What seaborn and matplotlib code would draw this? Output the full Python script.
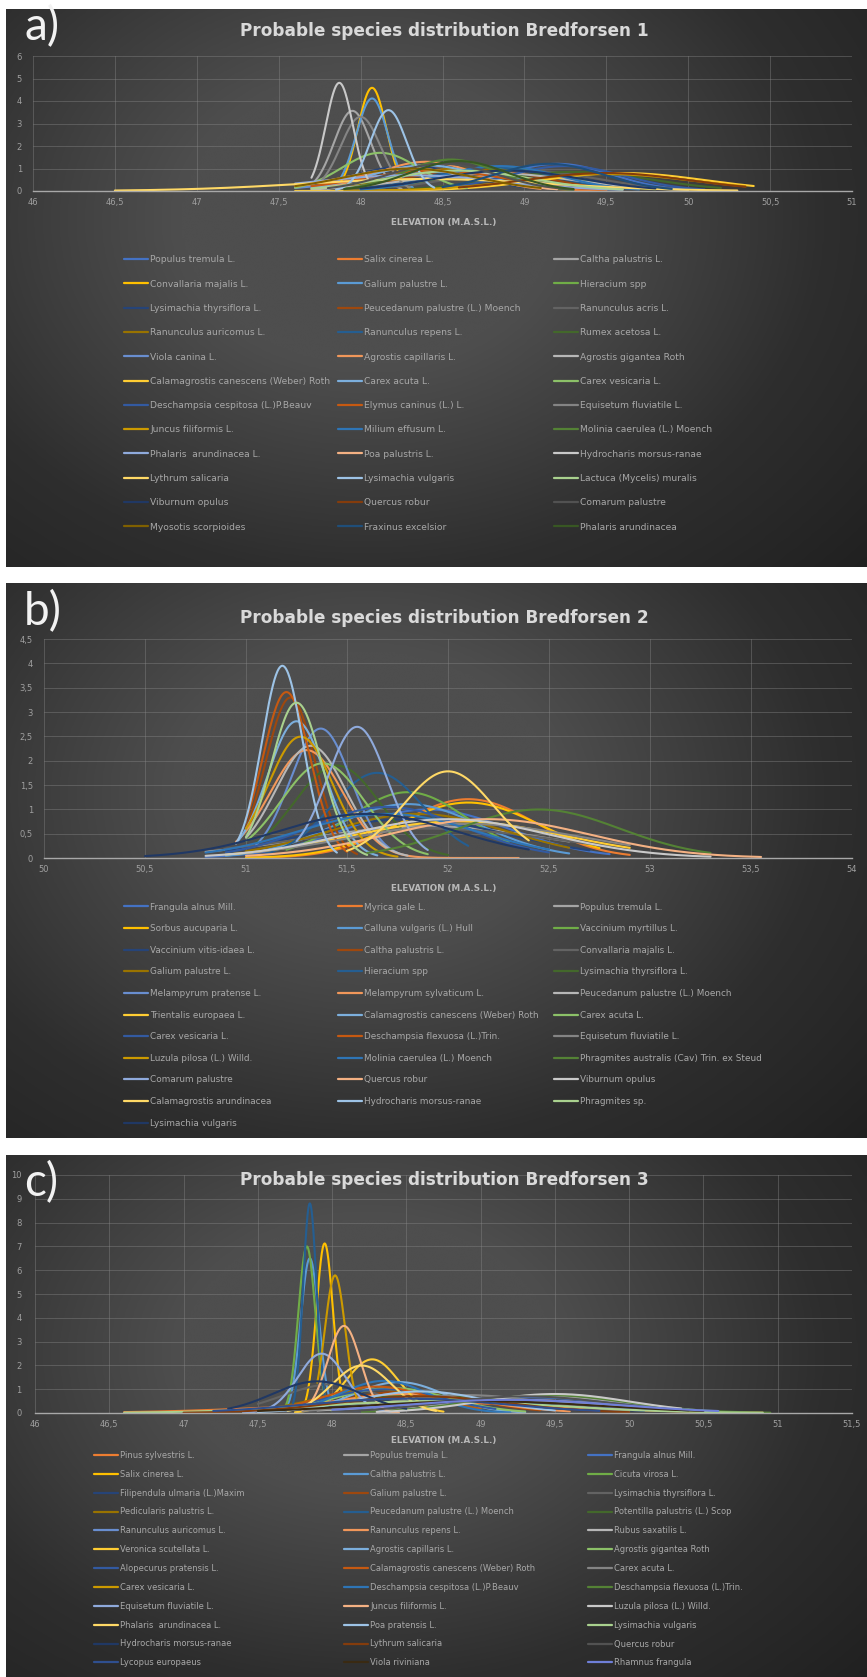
import numpy as np
import pandas as pd
import matplotlib
matplotlib.use("Agg")
import matplotlib.pyplot as plt
from matplotlib.colors import LinearSegmentedColormap
from matplotlib.lines import Line2D
from matplotlib.ticker import FuncFormatter, MultipleLocator
import seaborn as sns

# ---------------------------------------------------------------------------
# Bredforsen 1
species_a = [
    "Populus tremula L.", "Salix cinerea L.", "Caltha palustris L.",
    "Convallaria majalis L.", "Galium palustre L.", "Hieracium spp",
    "Lysimachia thyrsiflora L.", "Peucedanum palustre (L.) Moench", "Ranunculus acris L.",
    "Ranunculus auricomus L.", "Ranunculus repens L.", "Rumex acetosa L.",
    "Viola canina L.", "Agrostis capillaris L.", "Agrostis gigantea Roth",
    "Calamagrostis canescens (Weber) Roth", "Carex acuta L.", "Carex vesicaria L.",
    "Deschampsia cespitosa (L.)P.Beauv", "Elymus caninus (L.) L.", "Equisetum fluviatile L.",
    "Juncus filiformis L.", "Milium effusum L.", "Molinia caerulea (L.) Moench",
    "Phalaris  arundinacea L.", "Poa palustris L.", "Hydrocharis morsus-ranae",
    "Lythrum salicaria", "Lysimachia vulgaris", "Lactuca (Mycelis) muralis",
    "Viburnum opulus", "Quercus robur", "Comarum palustre",
    "Myosotis scorpioides", "Fraxinus excelsior", "Phalaris arundinacea",
]
mean_a = [49.20, 48.35, 47.95, 48.07, 48.07, 48.90, 48.30, 48.70, 49.00,
          48.60, 48.80, 49.30, 48.50, 48.40, 48.80, 49.60, 48.40, 48.12,
          49.25, 48.45, 48.00, 49.50, 48.85, 48.55, 48.30, 48.30, 47.87,
          48.40, 48.17, 48.60, 48.90, 49.50, 48.50, 48.30, 49.15, 48.60]
sd_a = [0.33, 0.38, 0.112, 0.087, 0.097, 0.40, 0.36, 0.40, 0.44,
        0.40, 0.38, 0.47, 0.47, 0.307, 0.50, 0.50, 0.35, 0.235,
        0.36, 0.44, 0.121, 0.53, 0.36, 0.285, 0.57, 0.40, 0.083,
        0.75, 0.111, 0.44, 0.44, 0.50, 0.33, 0.40, 0.33, 0.30]
low_a = [48.30, 47.60, 47.70, 47.85, 47.80, 48.00, 47.70, 47.90, 48.20,
         47.90, 48.00, 48.30, 47.60, 47.70, 47.70, 47.60, 47.70, 47.60,
         48.50, 47.70, 47.75, 47.90, 48.00, 47.90, 47.60, 47.60, 47.70,
         46.50, 47.85, 47.70, 48.00, 48.60, 47.80, 47.60, 48.50, 47.90]
high_a = [50.00, 49.50, 48.25, 48.30, 48.32, 49.80, 49.00, 49.60, 49.90,
          49.40, 49.60, 50.20, 49.50, 49.10, 50.00, 50.40, 49.20, 48.65,
          50.10, 49.50, 48.30, 50.35, 49.70, 49.30, 49.60, 49.20, 48.05,
          50.30, 48.45, 49.60, 49.80, 50.35, 49.30, 49.10, 49.90, 49.30]

# Bredforsen 2
species_b = [
    "Frangula alnus Mill.", "Myrica gale L.", "Populus tremula L.",
    "Sorbus aucuparia L.", "Calluna vulgaris (L.) Hull", "Vaccinium myrtillus L.",
    "Vaccinium vitis-idaea L.", "Caltha palustris L.", "Convallaria majalis L.",
    "Galium palustre L.", "Hieracium spp", "Lysimachia thyrsiflora L.",
    "Melampyrum pratense L.", "Melampyrum sylvaticum L.", "Peucedanum palustre (L.) Moench",
    "Trientalis europaea L.", "Calamagrostis canescens (Weber) Roth", "Carex acuta L.",
    "Carex vesicaria L.", "Deschampsia flexuosa (L.)Trin.", "Equisetum fluviatile L.",
    "Luzula pilosa (L.) Willd.", "Molinia caerulea (L.) Moench", "Phragmites australis (Cav) Trin. ex Steud",
    "Comarum palustre", "Quercus robur", "Viburnum opulus",
    "Calamagrostis arundinacea", "Hydrocharis morsus-ranae", "Phragmites sp.",
    "Lysimachia vulgaris",
]
mean_b = [51.90, 52.10, 51.90, 52.10, 51.80, 51.80, 51.80, 51.22, 51.90,
          51.85, 51.65, 51.45, 51.37, 51.30, 51.32, 52.05, 51.25, 51.38,
          51.70, 51.20, 52.10, 51.27, 51.70, 52.45, 51.55, 52.20, 52.00,
          52.00, 51.18, 51.25, 51.60]
sd_b = [0.40, 0.33, 0.61, 0.35, 0.36, 0.295, 0.50, 0.121, 0.66,
        0.44, 0.228, 0.21, 0.15, 0.18, 0.173, 0.53, 0.142, 0.205,
        0.38, 0.117, 0.57, 0.16, 0.44, 0.40, 0.148, 0.50, 0.50,
        0.224, 0.101, 0.125, 0.44]
low_b = [50.80, 51.00, 50.80, 51.00, 50.90, 51.20, 50.90, 51.00, 50.90,
         51.00, 51.10, 51.05, 51.05, 50.95, 51.00, 50.90, 50.95, 51.00,
         50.90, 51.00, 51.00, 51.00, 50.80, 51.60, 51.25, 51.00, 50.80,
         51.50, 50.95, 51.00, 50.50]
high_b = [52.80, 52.90, 52.60, 52.75, 52.60, 52.30, 52.70, 51.55, 52.80,
          52.60, 52.10, 52.00, 51.75, 52.35, 51.80, 52.90, 51.65, 51.90,
          52.50, 51.50, 52.90, 51.75, 52.50, 53.30, 51.90, 53.55, 53.30,
          52.40, 51.45, 51.60, 52.40]

# Bredforsen 3
species_c = [
    "Pinus sylvestris L.", "Populus tremula L.", "Frangula alnus Mill.",
    "Salix cinerea L.", "Caltha palustris L.", "Cicuta virosa L.",
    "Filipendula ulmaria (L.)Maxim", "Galium palustre L.", "Lysimachia thyrsiflora L.",
    "Pedicularis palustris L.", "Peucedanum palustre (L.) Moench", "Potentilla palustris (L.) Scop",
    "Ranunculus auricomus L.", "Ranunculus repens L.", "Rubus saxatilis L.",
    "Veronica scutellata L.", "Agrostis capillaris L.", "Agrostis gigantea Roth",
    "Alopecurus pratensis L.", "Calamagrostis canescens (Weber) Roth", "Carex acuta L.",
    "Carex vesicaria L.", "Deschampsia cespitosa (L.)P.Beauv", "Deschampsia flexuosa (L.)Trin.",
    "Equisetum fluviatile L.", "Juncus filiformis L.", "Luzula pilosa (L.) Willd.",
    "Phalaris  arundinacea L.", "Poa pratensis L.", "Lysimachia vulgaris",
    "Hydrocharis morsus-ranae", "Lythrum salicaria", "Quercus robur",
    "Lycopus europaeus", "Viola riviniana", "Rhamnus frangula",
]
mean_c = [48.60, 49.40, 49.30, 47.95, 47.85, 47.83, 48.80, 48.50, 48.00,
          48.30, 47.85, 48.60, 49.00, 48.50, 49.20, 48.27, 48.45, 48.40,
          48.35, 48.30, 48.90, 48.02, 48.35, 49.45, 47.93, 48.08, 49.50,
          48.20, 48.60, 48.70, 47.90, 48.60, 49.30, 48.50, 49.00, 49.20]
sd_c = [0.90, 0.57, 0.60, 0.056, 0.0614, 0.057, 0.66, 0.44, 0.33,
        0.40, 0.0453, 0.50, 0.66, 0.50, 0.72, 0.177, 0.307, 0.38,
        0.40, 0.36, 0.53, 0.069, 0.295, 0.53, 0.16, 0.109, 0.50,
        0.20, 0.44, 0.80, 0.30, 0.57, 0.57, 0.66, 0.80, 0.72]
low_c = [46.60, 48.20, 48.00, 47.80, 47.70, 47.68, 47.60, 47.60, 47.50,
         47.60, 47.73, 47.60, 47.80, 47.50, 47.90, 47.75, 47.80, 47.60,
         47.70, 47.60, 47.80, 47.90, 47.70, 48.20, 47.40, 47.80, 48.30,
         47.70, 47.50, 46.60, 47.30, 47.00, 48.00, 47.20, 47.50, 48.00]
high_c = [50.90, 50.40, 50.50, 48.10, 48.00, 48.00, 50.10, 49.40, 48.60,
          49.00, 47.98, 49.60, 50.30, 49.60, 50.50, 48.75, 49.30, 49.30,
          49.10, 49.00, 50.00, 48.17, 49.20, 50.95, 48.40, 48.45, 50.35,
          48.70, 49.50, 50.90, 48.50, 50.00, 50.40, 49.80, 50.50, 50.60]

# Office series colour cycle (row-wise through the three legend columns)
office_cycle = [
    "#4472C4", "#ED7D31", "#A5A5A5", "#FFC000", "#5B9BD5", "#70AD47",
    "#264478", "#9E480E", "#636363", "#997300", "#255E91", "#43682B",
    "#698ED0", "#F1975A", "#B7B7B7", "#FFCD33", "#7CAFDD", "#8CC168",
    "#335AA1", "#C65911", "#848484", "#CC9A00", "#2E75B6", "#548235",
    "#8FAADC", "#F4B183", "#C9C9C9", "#FFD966", "#9DC3E6", "#A9D18E",
    "#203864", "#843C0C", "#525252", "#7F6000", "#1F4E79", "#385723",
]
colors_a = office_cycle[:36]
colors_b = office_cycle[:31]
colors_c = (["#ED7D31", "#A5A5A5", "#4472C4"] + office_cycle[3:33]
            + ["#2F4F8F", "#3A2A12", "#6F7FD8"])

titles = ["Probable species distribution Bredforsen 1",
          "Probable species distribution Bredforsen 2",
          "Probable species distribution Bredforsen 3"]
letters = ["a)", "b)", "c)"]
x_label = "ELEVATION (M.A.S.L.)"

# ---------------------------------------------------------------------------
W, H, DPI = 867, 1677, 100
sns.set_theme(style="dark")
plt.rcParams["font.family"] = ["DejaVu Sans"]

fig = plt.figure(figsize=(W / DPI, H / DPI), dpi=DPI, facecolor="white")


def rect(x0, y0, x1, y1):
    return [x0 / W, 1 - y1 / H, (x1 - x0) / W, (y1 - y0) / H]


def fx(x):
    return x / W


def fy(y):
    return 1 - y / H


def density_frame(names, mus, sds, lows, highs):
    parts = []
    for name, mu, sd, lo, hi in zip(names, mus, sds, lows, highs):
        x = np.linspace(lo, hi, 200)
        y = np.exp(-0.5 * ((x - mu) / sd) ** 2) / (sd * np.sqrt(2 * np.pi))
        parts.append(pd.DataFrame({"elevation": x, "density": y, "species": name}))
    return pd.concat(parts, ignore_index=True)


bg_cmap = LinearSegmentedColormap.from_list("bg", ["#1f1f1f", "#2e2e2e", "#4e4e4e"])


def comma(v, _pos):
    return f"{v:g}".replace(".", ",")


layouts = [
    dict(frame=(6, 9, 867, 567), plot=(33, 56, 852, 191), xlim=(46, 51), ylim=(0, 6),
         ystep=1, ypad=8, letter_y=27, title_y=31, label_y=223, leg_y=260, leg_dy=24.45,
         leg_x=(124, 338, 554), leg_fs=6.6),
    dict(frame=(6, 583, 867, 1138), plot=(44, 639, 852, 858), xlim=(50, 54), ylim=(0, 4.5),
         ystep=0.5, ypad=8, letter_y=612, title_y=618, label_y=889, leg_y=907, leg_dy=21.5,
         leg_x=(124, 338, 554), leg_fs=6.4),
    dict(frame=(6, 1155, 867, 1677), plot=(35, 1175, 852, 1413), xlim=(46, 51.5), ylim=(0, 10),
         ystep=1, ypad=9.5, letter_y=1183, title_y=1180, label_y=1440, leg_y=1455, leg_dy=18.2,
         leg_x=(94, 344, 588), leg_fs=6.0),
]

panels = [
    (species_a, colors_a, mean_a, sd_a, low_a, high_a),
    (species_b, colors_b, mean_b, sd_b, low_b, high_b),
    (species_c, colors_c, mean_c, sd_c, low_c, high_c),
]

for k, (lay, (names, cols, mus, sds, lows, highs)) in enumerate(zip(layouts, panels)):
    # dark chart-area background with soft radial light
    bg = fig.add_axes(rect(*lay["frame"]))
    u = np.linspace(0, 1, 300)
    v = np.linspace(0, 1, 300)
    U, V = np.meshgrid(u, v)
    r = np.sqrt(((U - 0.42) / 0.80) ** 2 + ((V - 0.38) / 0.95) ** 2)
    glow = np.clip(1 - r, 0, 1) ** 0.9
    bg.imshow(glow, cmap=bg_cmap, vmin=0, vmax=0.75, aspect="auto",
              extent=(0, 1, 1, 0), interpolation="bicubic")
    bg.set_axis_off()

    ax = fig.add_axes(rect(*lay["plot"]))
    ax.set_facecolor("none")
    df = density_frame(names, mus, sds, lows, highs)
    sns.lineplot(data=df, x="elevation", y="density", hue="species", hue_order=names,
                 palette=dict(zip(names, cols)), sort=False, estimator=None,
                 legend=False, linewidth=1.5, ax=ax)
    ax.set_xlim(*lay["xlim"])
    ax.set_ylim(*lay["ylim"])
    ax.xaxis.set_major_locator(MultipleLocator(0.5))
    ax.yaxis.set_major_locator(MultipleLocator(lay["ystep"]))
    ax.xaxis.set_major_formatter(FuncFormatter(comma))
    ax.yaxis.set_major_formatter(FuncFormatter(comma))
    ax.grid(True, color="#8a8a8a", linewidth=0.7, alpha=0.4)
    ax.set_axisbelow(True)
    for side in ("top", "right", "left"):
        ax.spines[side].set_visible(False)
    ax.spines["bottom"].set_color("#a8a8a8")
    ax.spines["bottom"].set_linewidth(1.0)
    ax.tick_params(axis="both", length=0, labelsize=6, labelcolor="#a0a0a0", pad=5)
    ax.tick_params(axis="y", pad=lay["ypad"])
    ax.set_xlabel("")
    ax.set_ylabel("")

    fig.text(fx(24), fy(lay["letter_y"]), letters[k], ha="left", va="center",
             fontsize=33, color="#f2f2f2", family=["Lato", "DejaVu Sans"])
    fig.text(fx(444), fy(lay["title_y"]), titles[k], ha="center", va="center",
             fontsize=12.2, fontweight="bold", color="#d9d9d9")
    fig.text(fx(444), fy(lay["label_y"]), x_label, ha="center", va="center",
             fontsize=6.3, fontweight="bold", color="#b8b8b8")

    # legend, filled row by row across three columns
    handles = [Line2D([], [], color=c, linewidth=1.6) for c in cols]
    fs = lay["leg_fs"]
    fs_px = fs * DPI / 72
    text_h = 1.0 * fs_px
    spacing = (lay["leg_dy"] - text_h) / fs_px
    for col in range(3):
        hs = handles[col::3]
        ls = names[col::3]
        fig.legend(hs, ls, loc="upper left",
                   bbox_to_anchor=(fx(lay["leg_x"][col]), fy(lay["leg_y"] - text_h / 2)),
                   frameon=False, fontsize=fs, labelcolor="#a8a8a8",
                   handlelength=24 / fs_px, handletextpad=0.25,
                   labelspacing=spacing, borderpad=0, borderaxespad=0)

fig.savefig("out.png", dpi=DPI, facecolor="white")
